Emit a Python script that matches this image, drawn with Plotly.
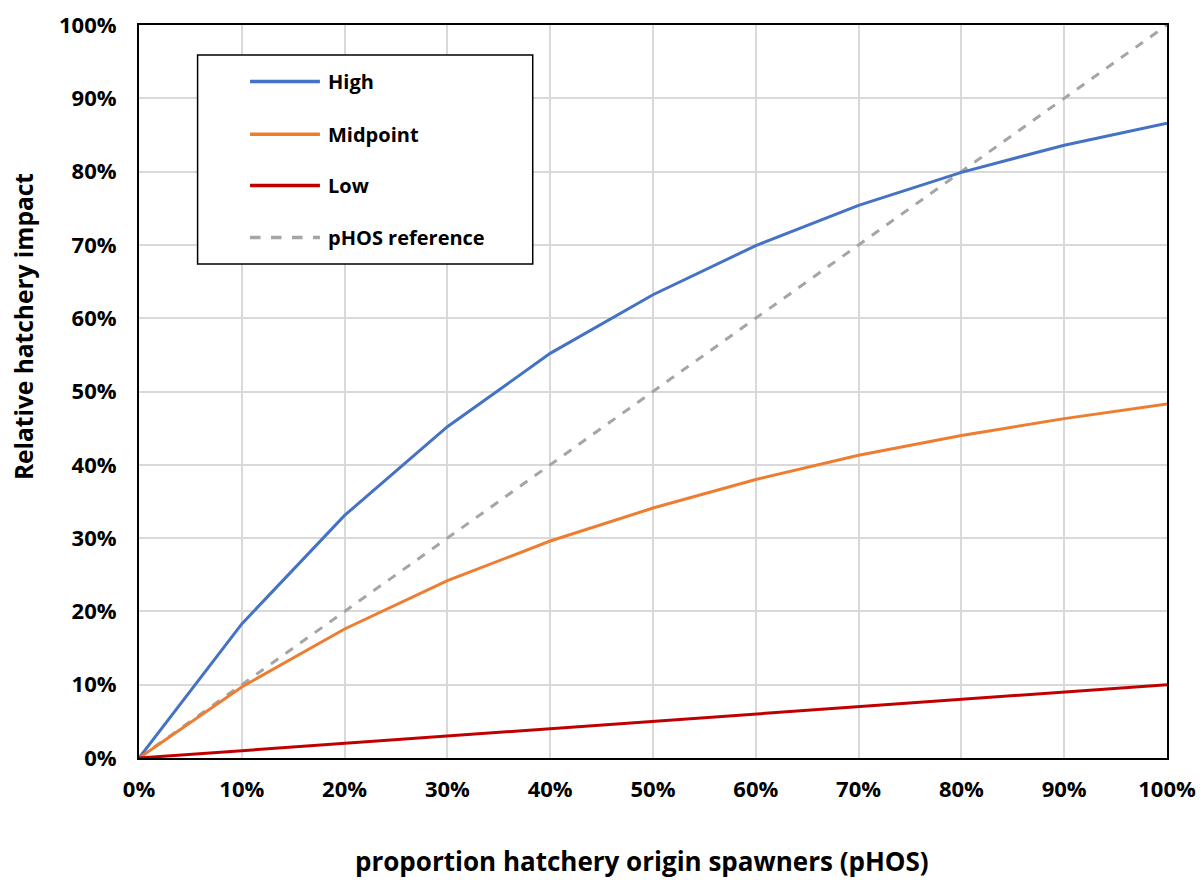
import plotly.graph_objects as go

# pHOS levels (fraction of hatchery-origin spawners)
phos = [0.0, 0.1, 0.2, 0.3, 0.4, 0.5, 0.6, 0.7, 0.8, 0.9, 1.0]

high = [0.0, 0.183, 0.331, 0.452, 0.552, 0.632, 0.699, 0.754, 0.799, 0.836, 0.866]
midpoint = [0.0, 0.097, 0.176, 0.242, 0.296, 0.341, 0.380, 0.413, 0.440, 0.463, 0.483]
low = [0.0, 0.01, 0.02, 0.03, 0.04, 0.05, 0.06, 0.07, 0.08, 0.09, 0.10]
reference = [0.0, 0.1, 0.2, 0.3, 0.4, 0.5, 0.6, 0.7, 0.8, 0.9, 1.0]

series_names = ["High", "Midpoint", "Low", "pHOS reference"]
series_values = [high, midpoint, low, reference]
series_colors = ["#4472C4", "#ED7D31", "#C00000", "#A5A5A5"]
series_dash = ["solid", "solid", "solid", "dash"]

tick_vals = [0.0, 0.1, 0.2, 0.3, 0.4, 0.5, 0.6, 0.7, 0.8, 0.9, 1.0]
tick_text = ["0%", "10%", "20%", "30%", "40%", "50%", "60%", "70%", "80%", "90%", "100%"]

x_title = "proportion hatchery origin spawners (pHOS)"
y_title = "Relative hatchery impact"

FONT = "'Open Sans', sans-serif"

fig = go.Figure()

# reference line drawn first so the curves sit on top of it
order = [3, 0, 1, 2]
for i in order:
    fig.add_trace(go.Scatter(
        x=phos, y=series_values[i], mode="lines", name=series_names[i],
        line=dict(color=series_colors[i], width=3, dash=series_dash[i]),
        showlegend=False,
    ))

axis_common = dict(
    range=[0, 1], tickvals=tick_vals, ticktext=tick_text,
    showgrid=True, gridcolor="#D9D9D9", gridwidth=1.5,
    showline=True, linecolor="black", linewidth=2, mirror=True,
    zeroline=False, ticks="", automargin=False,
    tickfont=dict(family=FONT, size=22, color="black", weight="bold"),
)

fig.update_xaxes(**axis_common, ticklabelstandoff=11)
fig.update_yaxes(**axis_common, ticklabelstandoff=16)

# legend box drawn in paper coordinates
shapes = [dict(type="rect", xref="paper", yref="paper",
               x0=0.057, x1=0.383, y0=0.674, y1=0.959,
               line=dict(color="black", width=1.5), fillcolor="white", layer="above")]
annotations = []
legend_rows = [0.923, 0.851, 0.781, 0.710]
for name, color, dash, yrow in zip(series_names, series_colors, series_dash, legend_rows):
    shapes.append(dict(type="line", xref="paper", yref="paper",
                       x0=0.108, x1=0.176, y0=yrow, y1=yrow, layer="above",
                       line=dict(color=color, width=3.5, dash=dash)))
    annotations.append(dict(xref="paper", yref="paper", x=0.182, y=yrow,
                            xanchor="left", yanchor="middle", showarrow=False,
                            text=f"<b>{name}</b>",
                            font=dict(family=FONT, size=20, color="black")))

# axis titles
annotations.append(dict(xref="paper", yref="paper", x=0.489, y=-0.141,
                        xanchor="center", yanchor="middle", showarrow=False,
                        text=f"<b>{x_title}</b>",
                        font=dict(family=FONT, size=26, color="black")))
annotations.append(dict(xref="paper", yref="paper", x=-0.113, y=0.589,
                        xanchor="center", yanchor="middle", showarrow=False,
                        textangle=-90, text=f"<b>{y_title}</b>",
                        font=dict(family=FONT, size=24.5, color="black")))

fig.update_layout(
    width=1204, height=880,
    margin=dict(l=139, r=37, t=25, b=122, autoexpand=False),
    plot_bgcolor="white", paper_bgcolor="white",
    shapes=shapes, annotations=annotations,
)

fig.write_html("out.html")
